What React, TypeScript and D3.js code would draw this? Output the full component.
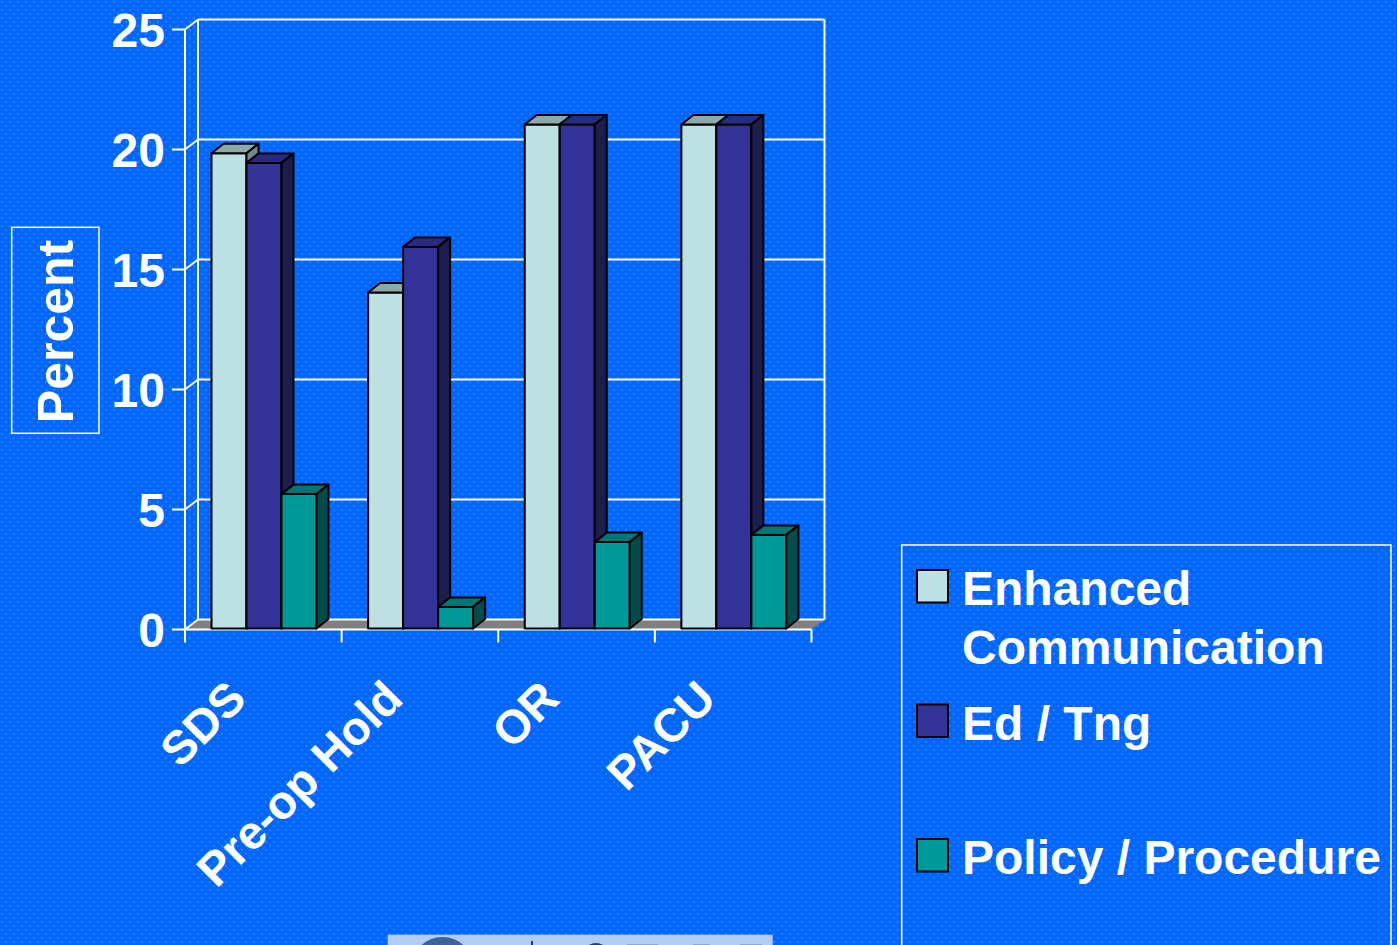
import React from 'react';
import * as d3 from 'd3';

// Chart data
const categories = ['SDS', 'Pre-op Hold', 'OR', 'PACU'];
const seriesKeys = ['enhanced', 'edTng', 'policy'];
const legendLines = [['Enhanced', 'Communication'], ['Ed / Tng'], ['Policy / Procedure']];
const enhancedCommunication = [19.8, 14.0, 21.0, 21.0];
const edTng = [19.4, 15.9, 21.0, 21.0];
const policyProcedure = [5.6, 0.9, 3.6, 3.9];
const yTicks = [0, 5, 10, 15, 20, 25];
const yAxisTitle = 'Percent';

const seriesValues = [enhancedCommunication, edTng, policyProcedure];
const seriesColors = [
  { front: '#BDE0E2', top: '#8FA8A8', side: '#6E8C8C' },
  { front: '#333399', top: '#2A2A80', side: '#1D1D4E' },
  { front: '#009999', top: '#007575', side: '#004C4C' },
];

const W = 1397;
const H = 945;
const FONT = "'Liberation Sans', Arial, Helvetica, sans-serif";

// 3-D plot frame
const plotLeft = 185;
const plotRight = 811.5;
const DX = 13;
const DY = -10;

export default function App() {
  const x = d3.scaleBand<string>().domain(categories).range([plotLeft, plotRight]).padding(0);
  const xs = d3.scaleBand<string>().domain(seriesKeys).range([26, 131]).padding(0);
  const y = d3.scaleLinear().domain([0, 25]).range([629.5, 29.5]);

  const y0 = y(0);
  const yTop = y(25);
  const bw = xs.bandwidth();
  const bdx = 12;
  const bdy = -9.5;

  const bars: React.ReactNode[] = [];
  categories.forEach((c, ci) => {
    seriesKeys.forEach((s, si) => {
      const v = seriesValues[si][ci];
      const col = seriesColors[si];
      const x0 = (x(c) as number) + (xs(s) as number) + 0.5;
      const yb = y0 - 1;
      const yt = y(v) - 1;
      const top = `${x0},${yt} ${x0 + bw},${yt} ${x0 + bw + bdx},${yt + bdy} ${x0 + bdx},${yt + bdy}`;
      const side = `${x0 + bw},${yt} ${x0 + bw},${yb} ${x0 + bw + bdx},${yb + bdy} ${x0 + bw + bdx},${yt + bdy}`;
      bars.push(
        <g key={`${c}-${s}`} stroke="#000" strokeWidth={2} strokeLinejoin="round">
          <rect x={x0} y={yt} width={bw} height={yb - yt} fill={col.front} />
          <polygon points={top} fill={col.top} />
          <polygon points={side} fill={col.side} />
        </g>
      );
    });
  });

  const catTicks = [...categories.map((c) => x(c) as number), plotRight];

  return (
    <svg
      width={W}
      height={H}
      style={{ position: 'absolute', left: 0, top: 0, display: 'block' }}
      xmlns="http://www.w3.org/2000/svg"
    >
      <defs>
        <pattern id="dots" width={8} height={8} patternUnits="userSpaceOnUse">
          <circle cx={2} cy={2} r={0.9} fill="#3A9BFF" />
          <circle cx={6} cy={6} r={0.9} fill="#3A9BFF" />
        </pattern>
      </defs>
      <rect width={W} height={H} fill="#0066FF" />
      <rect width={W} height={H} fill="url(#dots)" opacity={0.8} />

      {/* floor */}
      <polygon
        points={`${plotLeft},${y0} ${plotRight},${y0} ${plotRight + DX},${y0 + DY} ${plotLeft + DX},${y0 + DY}`}
        fill="#808080"
      />

      {/* walls and gridlines */}
      <g stroke="#fff" strokeWidth={2} fill="none">
        {yTicks.map((t) => (
          <g key={t}>
            <line x1={plotLeft + DX} x2={plotRight + DX} y1={y(t) + DY} y2={y(t) + DY} />
            <line x1={plotLeft} x2={plotLeft + DX} y1={y(t)} y2={y(t) + DY} />
            <line x1={plotLeft - 13} x2={plotLeft} y1={y(t)} y2={y(t)} />
          </g>
        ))}
        <line x1={plotLeft + DX} x2={plotLeft + DX} y1={yTop + DY} y2={y0 + DY} />
        <line x1={plotRight + DX} x2={plotRight + DX} y1={yTop + DY} y2={y0 + DY} />
        <line x1={plotLeft} x2={plotLeft} y1={yTop} y2={y0} />
        <line x1={plotLeft} x2={plotRight} y1={y0} y2={y0} />
        {catTicks.map((cx, i) => (
          <line key={i} x1={cx} x2={cx} y1={y0} y2={y0 + 13} />
        ))}
      </g>

      {bars}

      {/* value axis labels */}
      <g fill="#fff" fontFamily={FONT} fontWeight="bold" fontSize={48} textAnchor="end">
        {yTicks.map((t) => (
          <text key={t} x={165} y={y(t)} dy="0.36em">
            {t}
          </text>
        ))}
      </g>

      {/* category labels */}
      <g fill="#fff" fontFamily={FONT} fontWeight="bold" fontSize={47} textAnchor="end">
        {categories.map((c) => {
          const cx = (x(c) as number) + x.bandwidth() / 2 - 15;
          return (
            <text key={c} transform={`translate(${cx},701) rotate(-45)`}>
              {c}
            </text>
          );
        })}
      </g>

      {/* axis title */}
      <rect x={11.7} y={227.3} width={87.3} height={206} fill="none" stroke="#fff" strokeWidth={1.5} />
      <text
        transform="translate(73,331.5) rotate(-90)"
        fill="#fff"
        fontFamily={FONT}
        fontWeight="bold"
        fontSize={50}
        textAnchor="middle"
      >
        {yAxisTitle}
      </text>

      {/* legend */}
      <rect x={901.7} y={545} width={489.3} height={420} fill="none" stroke="#fff" strokeWidth={1.5} />
      {legendLines.map((lines, i) => {
        const top = 570 + 134.5 * i;
        return (
          <g key={i}>
            <rect x={917} y={top} width={31} height={32.5} fill={seriesColors[i].front} stroke="#000" strokeWidth={2} />
            <text fill="#fff" fontFamily={FONT} fontWeight="bold" fontSize={48}>
              {lines.map((ln, li) => (
                <tspan key={li} x={962} y={top + 35 + li * 58.5}>
                  {ln}
                </tspan>
              ))}
            </text>
          </g>
        );
      })}

      {/* logo strip at the bottom edge */}
      <g>
        <rect x={387.7} y={934.7} width={385} height={20} fill="#B3CCF5" />
        <circle cx={442.5} cy={968} r={31} fill="#3D6199" />
        <rect x={531} y={941} width={2} height={10} fill="#22385F" />
        <circle cx={596} cy={956} r={13} fill="#233E6E" />
        <rect x={627} y={944} width={31} height={6} fill="#8EA8D9" />
        <rect x={693} y={944} width={17} height={6} fill="#8EA8D9" />
        <rect x={740} y={944} width={22} height={6} fill="#8EA8D9" />
      </g>
    </svg>
  );
}
